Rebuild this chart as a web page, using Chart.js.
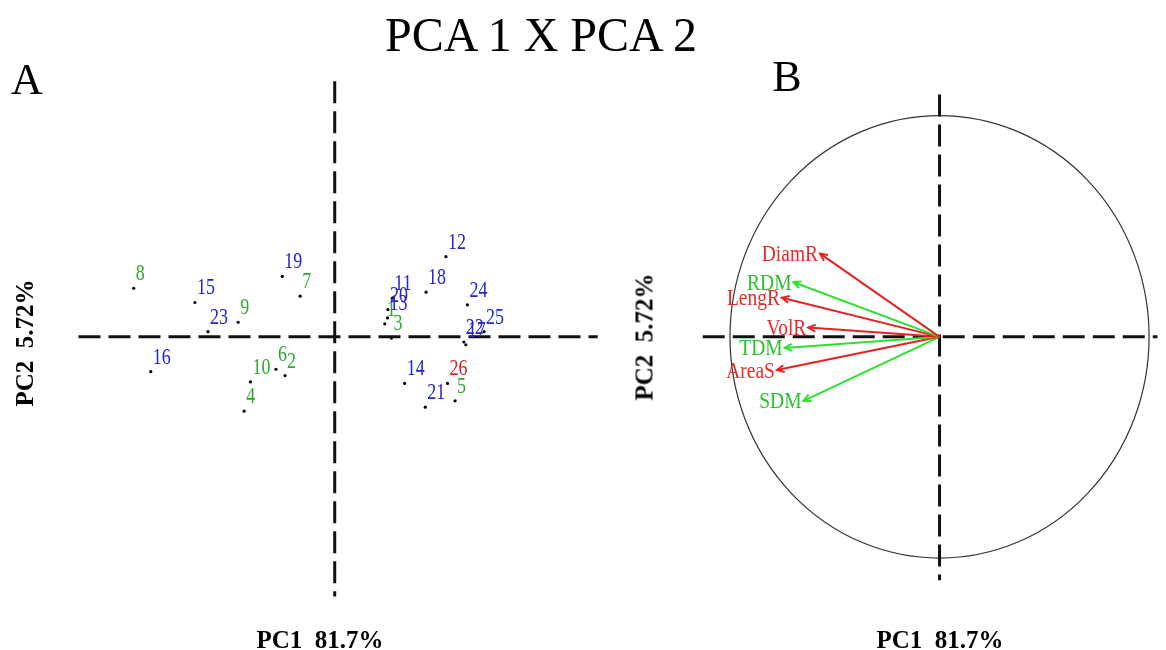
<!DOCTYPE html>
<html>
<head>
<meta charset="utf-8">
<script src="https://cdn.jsdelivr.net/npm/chart.js@4/dist/chart.umd.min.js"></script>
<style>
  html, body { margin: 0; padding: 0; background: #fff; }
  #wrap { position: relative; width: 1166px; height: 650px; overflow: hidden; }
  #pca { position: absolute; left: 0; top: 0; }
  .txt {
    position: absolute; font-family: 'Liberation Serif', 'DejaVu Serif', serif;
    line-height: 1; white-space: pre; color: #000;
    transform: translate(-50%, -50%);
  }
  .ttl { font-size: 48px; left: 541px; top: 35px; }
  .pan { font-size: 44px; }
  .axb { font-size: 25px; font-weight: bold; }
  .rot { transform: translate(-50%, -50%) rotate(-90deg); }
</style>
</head>
<body>
<div id="wrap">
  <canvas id="pca" width="1166" height="650"></canvas>
  <div class="txt ttl">PCA 1 X PCA 2</div>
  <div class="txt pan" style="left:27px;top:80px;">A</div>
  <div class="txt pan" style="left:787px;top:77px;">B</div>
  <div class="txt axb" style="left:320px;top:639px;">PC1  81.7%</div>
  <div class="txt axb" style="left:940px;top:639px;">PC1  81.7%</div>
  <div class="txt axb rot" style="left:24px;top:343px;">PC2  5.72%</div>
  <div class="txt axb rot" style="left:644px;top:337px;">PC2  5.72%</div>
</div>
<script>
'use strict';

// panel A: sample scores
const sampleIds = ['1','2','3','4','5','6','7','8','9','10','11','12','13',
  '14','15','16','17','18','19','20','21','22','23','24','25','26'];
const pc1Scores = [1.26, -1.25, 1.43, -2.28, 3.03, -1.48, -0.87, -5.06, -2.43, -2.12,
  1.45, 2.80, 1.33, 1.76, -3.52, -4.63, 3.30, 2.30, -1.32, 1.34,
  2.28, 3.25, -3.19, 3.34, 3.76, 2.84];
const pc2Scores = [0.33, -0.98, -0.03, -1.88, -1.62, -0.82, 1.03, 1.23, 0.37, -1.14,
  0.98, 2.03, 0.48, -1.18, 0.87, -0.88, -0.20, 1.13, 1.53, 0.69,
  -1.78, -0.13, 0.13, 0.81, 0.13, -1.18];
const sampleGroup = ['g','g','g','g','g','g','g','g','g','g',
  'b','b','b','b','b','b','b','b','b','b','b','b','b','b','b','r'];

// panel B: variable loadings
const varNames = ['DiamR', 'RDM', 'LengR', 'VolR', 'TDM', 'AreaS', 'SDM'];
const varPc1 = [-0.570, -0.697, -0.752, -0.626, -0.739, -0.776, -0.649];
const varPc2 = [0.376, 0.247, 0.177, 0.042, -0.050, -0.150, -0.289];
const varGroup = ['r', 'g', 'r', 'r', 'g', 'r', 'g'];

const textColors = { g: '#2ea82e', b: '#2424cc', r: '#d02424' };
const arrowColors = { g: '#2fe02f', r: '#e52222' };
const labelColorsB = { g: '#2cc02c', r: '#e52a2a' };

// reach of the dashed axes (in each panel's own units)
const axisA = { x: [-6.45, 6.62], y: [-6.57, 6.47] };
const axisB = { x: [-1.13, 1.04], y: [-1.1, 1.095] };

const datasets = [{
  label: 'samples',
  data: pc1Scores.map((v, i) => ({ x: v, y: pc2Scores[i] })),
  xAxisID: 'xA', yAxisID: 'yA',
  pointRadius: 1.6, pointBackgroundColor: '#000', pointBorderWidth: 0,
  showLine: false
}];
varNames.forEach((name, i) => {
  datasets.push({
    label: name,
    data: [{ x: 0, y: 0 }, { x: varPc1[i], y: varPc2[i] }],
    xAxisID: 'xB', yAxisID: 'yB',
    showLine: true, borderColor: arrowColors[varGroup[i]], borderWidth: 2,
    pointRadius: 0
  });
});

function dashed(ctx, x1, y1, x2, y2) {
  ctx.beginPath();
  ctx.moveTo(x1, y1);
  ctx.lineTo(x2, y2);
  ctx.stroke();
}

const decor = {
  id: 'decor',
  beforeDatasetsDraw(chart) {
    const { ctx, scales } = chart;
    const { xA, yA, xB, yB } = scales;
    ctx.save();
    // correlation circle
    const cx = xB.getPixelForValue(0), cy = yB.getPixelForValue(0);
    ctx.strokeStyle = '#333';
    ctx.lineWidth = 1.2;
    ctx.beginPath();
    ctx.ellipse(cx, cy, xB.getPixelForValue(1) - cx, cy - yB.getPixelForValue(1), 0, 0, Math.PI * 2);
    ctx.stroke();
    // dashed axes
    ctx.strokeStyle = '#111';
    ctx.lineWidth = 3;
    ctx.setLineDash([22, 8]);
    dashed(ctx, xA.getPixelForValue(axisA.x[0]), yA.getPixelForValue(0), xA.getPixelForValue(axisA.x[1]), yA.getPixelForValue(0));
    dashed(ctx, xA.getPixelForValue(0), yA.getPixelForValue(axisA.y[1]), xA.getPixelForValue(0), yA.getPixelForValue(axisA.y[0]));
    dashed(ctx, xB.getPixelForValue(axisB.x[0]), cy, xB.getPixelForValue(axisB.x[1]), cy);
    dashed(ctx, cx, yB.getPixelForValue(axisB.y[1]), cx, yB.getPixelForValue(axisB.y[0]));
    ctx.restore();
  },
  afterDatasetsDraw(chart) {
    const { ctx } = chart;
    ctx.save();
    // sample labels
    const pts = chart.getDatasetMeta(0).data;
    ctx.font = '18px "Liberation Serif", serif';
    ctx.textAlign = 'left';
    ctx.textBaseline = 'alphabetic';
    pts.forEach((p, i) => {
      ctx.fillStyle = textColors[sampleGroup[i]];
      ctx.save();
      ctx.translate(p.x + 2, p.y - 8);
      ctx.scale(1, 1.3);
      ctx.fillText(sampleIds[i], 0, 0);
      ctx.restore();
    });
    // arrow heads and variable labels
    ctx.font = '19.5px "Liberation Serif", serif';
    ctx.textAlign = 'right';
    varNames.forEach((name, i) => {
      const meta = chart.getDatasetMeta(i + 1).data;
      const o = meta[0], t = meta[1];
      const ang = Math.atan2(t.y - o.y, t.x - o.x);
      ctx.strokeStyle = arrowColors[varGroup[i]];
      ctx.lineWidth = 2;
      ctx.beginPath();
      ctx.moveTo(t.x - 8 * Math.cos(ang - 0.45), t.y - 8 * Math.sin(ang - 0.45));
      ctx.lineTo(t.x, t.y);
      ctx.lineTo(t.x - 8 * Math.cos(ang + 0.45), t.y - 8 * Math.sin(ang + 0.45));
      ctx.stroke();
      ctx.fillStyle = labelColorsB[varGroup[i]];
      ctx.save();
      ctx.translate(t.x - 2, t.y + 7.5);
      ctx.scale(1, 1.17);
      ctx.fillText(name, 0, 0);
      ctx.restore();
    });
    ctx.restore();
  }
};

new Chart(document.getElementById('pca'), {
  type: 'scatter',
  data: { datasets: datasets },
  options: {
    responsive: false,
    animation: false,
    devicePixelRatio: 1,
    layout: { padding: 0 },
    plugins: { legend: { display: false }, tooltip: { enabled: false } },
    scales: {
      xA: { type: 'linear', position: 'bottom', display: false, min: -333 / 40, max: 833 / 40 },
      yA: { type: 'linear', position: 'left', display: false, min: -313 / 40, max: 337 / 40 },
      xB: { type: 'linear', position: 'bottom', display: false, min: -942 / 211, max: 224 / 211 },
      yB: { type: 'linear', position: 'left', display: false, min: -313 / 224, max: 337 / 224 }
    }
  },
  plugins: [decor]
});
</script>
</body>
</html>
